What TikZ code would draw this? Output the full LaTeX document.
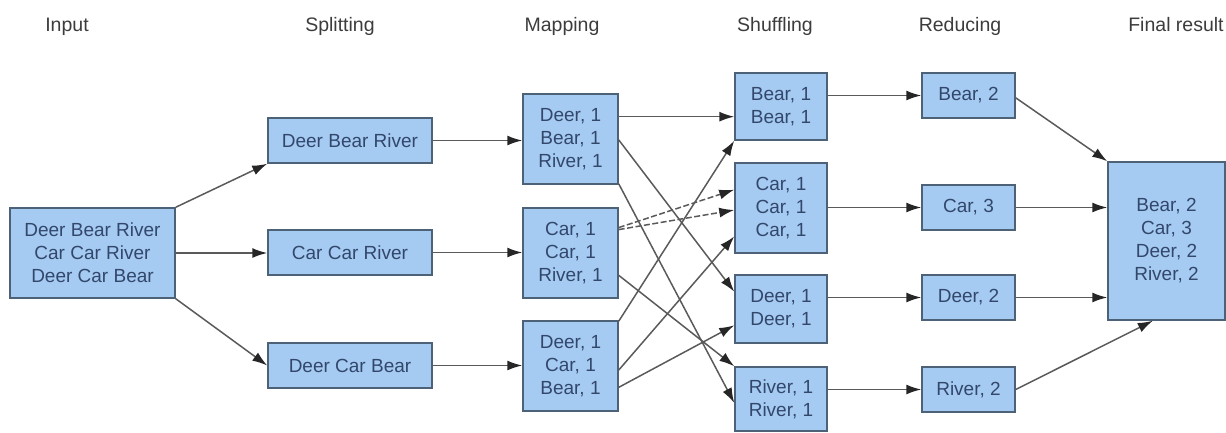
\documentclass[tikz,border=0pt]{standalone}
\usepackage{fontspec}
\setmainfont{Liberation Sans}
\usetikzlibrary{arrows.meta,calc}

\definecolor{boxfill}{HTML}{A5CBF3}
\definecolor{boxline}{HTML}{4D6177}
\definecolor{boxtext}{HTML}{33476B}
\definecolor{hdrtext}{HTML}{3C3C3C}
\definecolor{wire}{HTML}{5A5A5A}

\tikzset{
  box/.style={draw=boxline, line width=1.5pt, fill=boxfill, text=boxtext,
    inner sep=0pt, align=center, font=\fontsize{19}{23}\selectfont},
  hdr/.style={text=hdrtext, inner sep=0pt, anchor=base,
    font=\fontsize{19.5}{23}\selectfont},
  link/.style={draw=wire, line width=1.5pt,
    -{Latex[length=15pt,width=10pt,color=black!85]}},
  dashlink/.style={link, dash pattern=on 6pt off 2.5pt},
}

\begin{document}
\begin{tikzpicture}[x=1pt, y=-1pt]
\useasboundingbox (0,0) rectangle (1226,432);

% column headers
\node[hdr] (hIn)  at (67,31)   {Input};
\node[hdr] (hSp)  at (340,31)  {Splitting};
\node[hdr] (hMap) at (562,31)  {Mapping};
\node[hdr] (hSh)  at (775,31)  {Shuffling};
\node[hdr] (hRed) at (960,31)  {Reducing};
\node[hdr] (hFin) at (1176,31) {Final result};

% input
\node[box, minimum width=165pt, minimum height=90pt] (in) at (92.5,253)
  {Deer Bear River\\Car Car River\\Deer Car Bear};

% splitting
\node[box, minimum width=164pt, minimum height=45pt] (s1) at (350,140.5) {Deer Bear River};
\node[box, minimum width=164pt, minimum height=45pt] (s2) at (350,252.5) {Car Car River};
\node[box, minimum width=164pt, minimum height=45pt] (s3) at (350,365.5) {Deer Car Bear};

% mapping
\node[box, minimum width=95pt, minimum height=90pt] (m1) at (570.5,139) {Deer, 1\\Bear, 1\\River, 1};
\node[box, minimum width=95pt, minimum height=90pt] (m2) at (570.5,253) {Car, 1\\Car, 1\\River, 1};
\node[box, minimum width=95pt, minimum height=90pt] (m3) at (570.5,366) {Deer, 1\\Car, 1\\Bear, 1};

% shuffling
\node[box, minimum width=92pt, minimum height=67pt] (h1) at (781,106.5) {Bear, 1\\Bear, 1};
\node[box, minimum width=92pt, minimum height=90pt] (h2) at (781,208) {Car, 1\\Car, 1\\Car, 1};
\node[box, minimum width=92pt, minimum height=68pt] (h3) at (781,309) {Deer, 1\\Deer, 1};
\node[box, minimum width=92pt, minimum height=64pt] (h4) at (781,399) {River, 1\\River, 1};

% reducing
\node[box, minimum width=93pt, minimum height=45pt] (r1) at (968.5,95.5)  {Bear, 2};
\node[box, minimum width=93pt, minimum height=45pt] (r2) at (968.5,207.5) {Car, 3};
\node[box, minimum width=93pt, minimum height=45pt] (r3) at (968.5,297.5) {Deer, 2};
\node[box, minimum width=93pt, minimum height=45pt] (r4) at (968.5,389.5) {River, 2};

% final result
\node[box, minimum width=117pt, minimum height=158pt] (fin) at (1166.5,241)
  {Bear, 2\\Car, 3\\Deer, 2\\River, 2};

% input -> splitting
\draw[link] (in.north east) -- (s1.south west);
\draw[link] (in.east) -- (in.east -| s2.west);
\draw[link] (in.south east) -- (s3.west);

% splitting -> mapping
\draw[link] (s1.east) -- (s1.east -| m1.west);
\draw[link] (s2.east) -- (s2.east -| m2.west);
\draw[link] (s3.east) -- (s3.east -| m3.west);

% mapping -> shuffling
\coordinate (m1a) at ($(m1.north east)!0.256!(m1.south east)$);
\draw[link] (m1a) -- (m1a -| h1.west);
\draw[link] ($(m1.north east)!0.51!(m1.south east)$) -- ($(h3.north west)!0.25!(h3.south west)$);
\draw[link] ($(m1.north east)!0.99!(m1.south east)$) -- ($(h4.north west)!0.56!(h4.south west)$);
\draw[dashlink] ($(m2.north east)!0.222!(m2.south east)$) -- ($(h2.north west)!0.3!(h2.south west)$);
\draw[dashlink] ($(m2.north east)!0.244!(m2.south east)$) -- ($(h2.north west)!0.522!(h2.south west)$);
\draw[link] ($(m2.north east)!0.744!(m2.south east)$) -- (h4.north west);
\draw[link] ($(m3.north east)!0.01!(m3.south east)$) -- (h1.south west);
\draw[link] ($(m3.north east)!0.544!(m3.south east)$) -- ($(h2.north west)!0.811!(h2.south west)$);
\draw[link] ($(m3.north east)!0.733!(m3.south east)$) -- ($(h3.north west)!0.735!(h3.south west)$);

% shuffling -> reducing
\draw[link] (r1.west -| h1.east) -- (r1.west);
\draw[link] (r2.west -| h2.east) -- (r2.west);
\draw[link] (r3.west -| h3.east) -- (r3.west);
\draw[link] (r4.west -| h4.east) -- (r4.west);

% reducing -> final result
\draw[link] ($(r1.north east)!0.55!(r1.south east)$) -- (fin.north west);
\draw[link] (r2.east) -- (r2.east -| fin.west);
\draw[link] (r3.east) -- (r3.east -| fin.west);
\draw[link] (r4.east) -- ($(fin.south west)!0.385!(fin.south east)$);
\end{tikzpicture}
\end{document}
